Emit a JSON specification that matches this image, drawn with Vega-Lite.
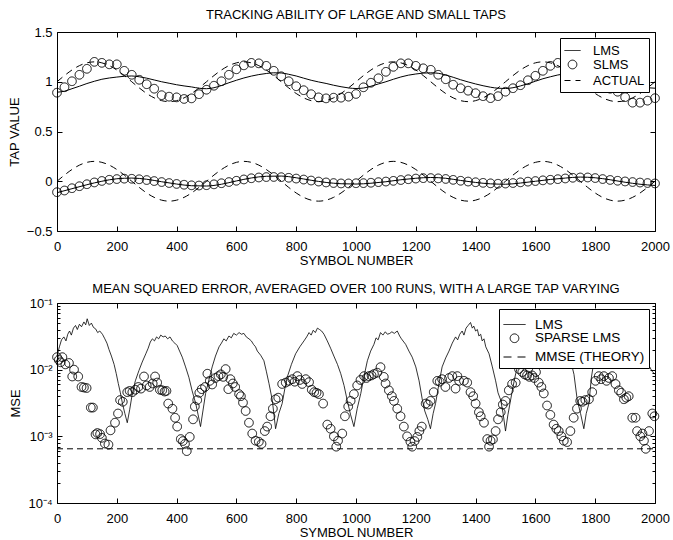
{
"$schema": "https://vega.github.io/schema/vega-lite/v6.json",
"background": "white",
"padding": {"left": 7, "top": 8, "right": 17, "bottom": 0},
"config": {
 "font": "Liberation Sans",
 "view": {"stroke": "black", "strokeWidth": 1},
 "axis": {"grid": false, "domain": false, "tickColor": "black", "tickWidth": 1, "tickSize": -5, "labelFont": "Liberation Sans", "labelFontSize": 13, "labelColor": "black", "labelPadding": 14, "labelFlush": false, "labelOverlap": false, "titleFont": "Liberation Sans", "titleFontSize": 13, "titleFontWeight": "normal", "titleColor": "black"},
 "legend": {"title": null, "orient": "top-right", "offset": 6, "fillColor": "white", "strokeColor": "black", "padding": 4, "labelFont": "Liberation Sans", "labelFontSize": 13, "labelColor": "black", "symbolStrokeWidth": 1, "symbolStrokeColor": "black", "symbolFillColor": "transparent"},
 "title": {"font": "Liberation Sans", "fontSize": 13, "fontWeight": "normal", "color": "black", "frame": "group", "offset": 4},
 "concat": {"spacing": 14}
},
"datasets": {
 "actual": [
  {"n":0,"v":1,"t":"L"},{"n":25,"v":1.062,"t":"L"},{"n":50,"v":1.118,"t":"L"},{"n":75,"v":1.162,"t":"L"},{"n":100,"v":1.19,"t":"L"},{"n":125,"v":1.2,"t":"L"},{"n":150,"v":1.19,"t":"L"},{"n":175,"v":1.162,"t":"L"},{"n":200,"v":1.118,"t":"L"},{"n":225,"v":1.062,"t":"L"},{"n":250,"v":1,"t":"L"},{"n":275,"v":0.938,"t":"L"},{"n":300,"v":0.882,"t":"L"},{"n":325,"v":0.838,"t":"L"},{"n":350,"v":0.81,"t":"L"},{"n":375,"v":0.8,"t":"L"},{"n":400,"v":0.81,"t":"L"},{"n":425,"v":0.838,"t":"L"},{"n":450,"v":0.882,"t":"L"},{"n":475,"v":0.938,"t":"L"},
  {"n":500,"v":1,"t":"L"},{"n":525,"v":1.062,"t":"L"},{"n":550,"v":1.118,"t":"L"},{"n":575,"v":1.162,"t":"L"},{"n":600,"v":1.19,"t":"L"},{"n":625,"v":1.2,"t":"L"},{"n":650,"v":1.19,"t":"L"},{"n":675,"v":1.162,"t":"L"},{"n":700,"v":1.118,"t":"L"},{"n":725,"v":1.062,"t":"L"},{"n":750,"v":1,"t":"L"},{"n":775,"v":0.938,"t":"L"},{"n":800,"v":0.882,"t":"L"},{"n":825,"v":0.838,"t":"L"},{"n":850,"v":0.81,"t":"L"},{"n":875,"v":0.8,"t":"L"},{"n":900,"v":0.81,"t":"L"},{"n":925,"v":0.838,"t":"L"},{"n":950,"v":0.882,"t":"L"},{"n":975,"v":0.938,"t":"L"},
  {"n":1000,"v":1,"t":"L"},{"n":1025,"v":1.062,"t":"L"},{"n":1050,"v":1.118,"t":"L"},{"n":1075,"v":1.162,"t":"L"},{"n":1100,"v":1.19,"t":"L"},{"n":1125,"v":1.2,"t":"L"},{"n":1150,"v":1.19,"t":"L"},{"n":1175,"v":1.162,"t":"L"},{"n":1200,"v":1.118,"t":"L"},{"n":1225,"v":1.062,"t":"L"},{"n":1250,"v":1,"t":"L"},{"n":1275,"v":0.938,"t":"L"},{"n":1300,"v":0.882,"t":"L"},{"n":1325,"v":0.838,"t":"L"},{"n":1350,"v":0.81,"t":"L"},{"n":1375,"v":0.8,"t":"L"},{"n":1400,"v":0.81,"t":"L"},{"n":1425,"v":0.838,"t":"L"},{"n":1450,"v":0.882,"t":"L"},{"n":1475,"v":0.938,"t":"L"},
  {"n":1500,"v":1,"t":"L"},{"n":1525,"v":1.062,"t":"L"},{"n":1550,"v":1.118,"t":"L"},{"n":1575,"v":1.162,"t":"L"},{"n":1600,"v":1.19,"t":"L"},{"n":1625,"v":1.2,"t":"L"},{"n":1650,"v":1.19,"t":"L"},{"n":1675,"v":1.162,"t":"L"},{"n":1700,"v":1.118,"t":"L"},{"n":1725,"v":1.062,"t":"L"},{"n":1750,"v":1,"t":"L"},{"n":1775,"v":0.938,"t":"L"},{"n":1800,"v":0.882,"t":"L"},{"n":1825,"v":0.838,"t":"L"},{"n":1850,"v":0.81,"t":"L"},{"n":1875,"v":0.8,"t":"L"},{"n":1900,"v":0.81,"t":"L"},{"n":1925,"v":0.838,"t":"L"},{"n":1950,"v":0.882,"t":"L"},{"n":1975,"v":0.938,"t":"L"},{"n":2000,"v":1,"t":"L"},
  {"n":0,"v":0,"t":"S"},{"n":25,"v":0.062,"t":"S"},{"n":50,"v":0.118,"t":"S"},{"n":75,"v":0.162,"t":"S"},{"n":100,"v":0.19,"t":"S"},{"n":125,"v":0.2,"t":"S"},{"n":150,"v":0.19,"t":"S"},{"n":175,"v":0.162,"t":"S"},{"n":200,"v":0.118,"t":"S"},{"n":225,"v":0.062,"t":"S"},{"n":250,"v":0,"t":"S"},{"n":275,"v":-0.062,"t":"S"},{"n":300,"v":-0.118,"t":"S"},{"n":325,"v":-0.162,"t":"S"},{"n":350,"v":-0.19,"t":"S"},{"n":375,"v":-0.2,"t":"S"},{"n":400,"v":-0.19,"t":"S"},{"n":425,"v":-0.162,"t":"S"},{"n":450,"v":-0.118,"t":"S"},{"n":475,"v":-0.062,"t":"S"},
  {"n":500,"v":0,"t":"S"},{"n":525,"v":0.062,"t":"S"},{"n":550,"v":0.118,"t":"S"},{"n":575,"v":0.162,"t":"S"},{"n":600,"v":0.19,"t":"S"},{"n":625,"v":0.2,"t":"S"},{"n":650,"v":0.19,"t":"S"},{"n":675,"v":0.162,"t":"S"},{"n":700,"v":0.118,"t":"S"},{"n":725,"v":0.062,"t":"S"},{"n":750,"v":0,"t":"S"},{"n":775,"v":-0.062,"t":"S"},{"n":800,"v":-0.118,"t":"S"},{"n":825,"v":-0.162,"t":"S"},{"n":850,"v":-0.19,"t":"S"},{"n":875,"v":-0.2,"t":"S"},{"n":900,"v":-0.19,"t":"S"},{"n":925,"v":-0.162,"t":"S"},{"n":950,"v":-0.118,"t":"S"},{"n":975,"v":-0.062,"t":"S"},
  {"n":1000,"v":0,"t":"S"},{"n":1025,"v":0.062,"t":"S"},{"n":1050,"v":0.118,"t":"S"},{"n":1075,"v":0.162,"t":"S"},{"n":1100,"v":0.19,"t":"S"},{"n":1125,"v":0.2,"t":"S"},{"n":1150,"v":0.19,"t":"S"},{"n":1175,"v":0.162,"t":"S"},{"n":1200,"v":0.118,"t":"S"},{"n":1225,"v":0.062,"t":"S"},{"n":1250,"v":0,"t":"S"},{"n":1275,"v":-0.062,"t":"S"},{"n":1300,"v":-0.118,"t":"S"},{"n":1325,"v":-0.162,"t":"S"},{"n":1350,"v":-0.19,"t":"S"},{"n":1375,"v":-0.2,"t":"S"},{"n":1400,"v":-0.19,"t":"S"},{"n":1425,"v":-0.162,"t":"S"},{"n":1450,"v":-0.118,"t":"S"},{"n":1475,"v":-0.062,"t":"S"},
  {"n":1500,"v":0,"t":"S"},{"n":1525,"v":0.062,"t":"S"},{"n":1550,"v":0.118,"t":"S"},{"n":1575,"v":0.162,"t":"S"},{"n":1600,"v":0.19,"t":"S"},{"n":1625,"v":0.2,"t":"S"},{"n":1650,"v":0.19,"t":"S"},{"n":1675,"v":0.162,"t":"S"},{"n":1700,"v":0.118,"t":"S"},{"n":1725,"v":0.062,"t":"S"},{"n":1750,"v":0,"t":"S"},{"n":1775,"v":-0.062,"t":"S"},{"n":1800,"v":-0.118,"t":"S"},{"n":1825,"v":-0.162,"t":"S"},{"n":1850,"v":-0.19,"t":"S"},{"n":1875,"v":-0.2,"t":"S"},{"n":1900,"v":-0.19,"t":"S"},{"n":1925,"v":-0.162,"t":"S"},{"n":1950,"v":-0.118,"t":"S"},{"n":1975,"v":-0.062,"t":"S"},{"n":2000,"v":0,"t":"S"}
 ],
 "lms1": [
  {"n":0,"v":0.895,"t":"L"},{"n":25,"v":0.905,"t":"L"},{"n":50,"v":0.93,"t":"L"},{"n":75,"v":0.955,"t":"L"},{"n":100,"v":0.982,"t":"L"},{"n":125,"v":1.005,"t":"L"},{"n":150,"v":1.025,"t":"L"},{"n":175,"v":1.038,"t":"L"},{"n":200,"v":1.047,"t":"L"},{"n":225,"v":1.055,"t":"L"},{"n":250,"v":1.058,"t":"L"},{"n":275,"v":1.05,"t":"L"},{"n":300,"v":1.036,"t":"L"},{"n":325,"v":1.018,"t":"L"},{"n":350,"v":1.0,"t":"L"},{"n":375,"v":0.985,"t":"L"},{"n":400,"v":0.97,"t":"L"},{"n":425,"v":0.958,"t":"L"},{"n":450,"v":0.948,"t":"L"},{"n":475,"v":0.935,"t":"L"},
  {"n":500,"v":0.93,"t":"L"},{"n":525,"v":0.94,"t":"L"},{"n":550,"v":0.962,"t":"L"},{"n":575,"v":0.99,"t":"L"},{"n":600,"v":1.015,"t":"L"},{"n":625,"v":1.038,"t":"L"},{"n":650,"v":1.057,"t":"L"},{"n":675,"v":1.072,"t":"L"},{"n":700,"v":1.083,"t":"L"},{"n":725,"v":1.09,"t":"L"},{"n":750,"v":1.088,"t":"L"},{"n":775,"v":1.075,"t":"L"},{"n":800,"v":1.058,"t":"L"},{"n":825,"v":1.036,"t":"L"},{"n":850,"v":1.015,"t":"L"},{"n":875,"v":0.998,"t":"L"},{"n":900,"v":0.983,"t":"L"},{"n":925,"v":0.965,"t":"L"},{"n":950,"v":0.95,"t":"L"},{"n":975,"v":0.938,"t":"L"},
  {"n":1000,"v":0.932,"t":"L"},{"n":1025,"v":0.937,"t":"L"},{"n":1050,"v":0.955,"t":"L"},{"n":1075,"v":0.978,"t":"L"},{"n":1100,"v":1.0,"t":"L"},{"n":1125,"v":1.025,"t":"L"},{"n":1150,"v":1.048,"t":"L"},{"n":1175,"v":1.066,"t":"L"},{"n":1200,"v":1.078,"t":"L"},{"n":1225,"v":1.087,"t":"L"},{"n":1250,"v":1.09,"t":"L"},{"n":1275,"v":1.085,"t":"L"},{"n":1300,"v":1.068,"t":"L"},{"n":1325,"v":1.045,"t":"L"},{"n":1350,"v":1.02,"t":"L"},{"n":1375,"v":0.998,"t":"L"},{"n":1400,"v":0.978,"t":"L"},{"n":1425,"v":0.96,"t":"L"},{"n":1450,"v":0.945,"t":"L"},{"n":1475,"v":0.935,"t":"L"},
  {"n":1500,"v":0.932,"t":"L"},{"n":1525,"v":0.94,"t":"L"},{"n":1550,"v":0.958,"t":"L"},{"n":1575,"v":0.98,"t":"L"},{"n":1600,"v":1.005,"t":"L"},{"n":1625,"v":1.03,"t":"L"},{"n":1650,"v":1.05,"t":"L"},{"n":1675,"v":1.068,"t":"L"},{"n":1700,"v":1.08,"t":"L"},{"n":1725,"v":1.087,"t":"L"},{"n":1750,"v":1.088,"t":"L"},{"n":1775,"v":1.078,"t":"L"},{"n":1800,"v":1.06,"t":"L"},{"n":1825,"v":1.04,"t":"L"},{"n":1850,"v":1.018,"t":"L"},{"n":1875,"v":0.998,"t":"L"},{"n":1900,"v":0.98,"t":"L"},{"n":1925,"v":0.962,"t":"L"},{"n":1950,"v":0.948,"t":"L"},{"n":1975,"v":0.94,"t":"L"},{"n":2000,"v":0.935,"t":"L"},
  {"n":0,"v":-0.115,"t":"S"},{"n":50,"v":-0.075,"t":"S"},{"n":100,"v":-0.035,"t":"S"},{"n":150,"v":0.0,"t":"S"},{"n":200,"v":0.025,"t":"S"},{"n":250,"v":0.032,"t":"S"},{"n":300,"v":0.02,"t":"S"},{"n":350,"v":-0.005,"t":"S"},{"n":400,"v":-0.028,"t":"S"},{"n":450,"v":-0.045,"t":"S"},{"n":500,"v":-0.048,"t":"S"},{"n":550,"v":-0.03,"t":"S"},{"n":600,"v":0.003,"t":"S"},{"n":650,"v":0.033,"t":"S"},{"n":700,"v":0.05,"t":"S"},{"n":750,"v":0.052,"t":"S"},{"n":800,"v":0.035,"t":"S"},{"n":850,"v":0.01,"t":"S"},{"n":900,"v":-0.012,"t":"S"},{"n":950,"v":-0.025,"t":"S"},
  {"n":1000,"v":-0.028,"t":"S"},{"n":1050,"v":-0.02,"t":"S"},{"n":1100,"v":-0.005,"t":"S"},{"n":1150,"v":0.015,"t":"S"},{"n":1200,"v":0.03,"t":"S"},{"n":1250,"v":0.038,"t":"S"},{"n":1300,"v":0.03,"t":"S"},{"n":1350,"v":0.008,"t":"S"},{"n":1400,"v":-0.012,"t":"S"},{"n":1450,"v":-0.026,"t":"S"},{"n":1500,"v":-0.03,"t":"S"},{"n":1550,"v":-0.018,"t":"S"},{"n":1600,"v":0.0,"t":"S"},{"n":1650,"v":0.018,"t":"S"},{"n":1700,"v":0.032,"t":"S"},{"n":1750,"v":0.042,"t":"S"},{"n":1800,"v":0.035,"t":"S"},{"n":1850,"v":0.015,"t":"S"},{"n":1900,"v":-0.01,"t":"S"},{"n":1950,"v":-0.03,"t":"S"},{"n":2000,"v":-0.042,"t":"S"}
 ],
 "slms1": [
  {"n":0,"v":0.89},{"n":25,"v":0.945},{"n":50,"v":1.005},{"n":75,"v":1.07},{"n":100,"v":1.13},{"n":125,"v":1.2},{"n":150,"v":1.19},{"n":175,"v":1.175},{"n":200,"v":1.175},{"n":225,"v":1.11},{"n":250,"v":1.07},{"n":275,"v":1.02},{"n":300,"v":0.975},{"n":325,"v":0.93},{"n":350,"v":0.865},{"n":375,"v":0.85},{"n":400,"v":0.843},{"n":425,"v":0.827},{"n":450,"v":0.833},{"n":475,"v":0.875},
  {"n":500,"v":0.92},{"n":525,"v":0.96},{"n":550,"v":1.005},{"n":575,"v":1.07},{"n":600,"v":1.125},{"n":625,"v":1.165},{"n":650,"v":1.19},{"n":675,"v":1.185},{"n":700,"v":1.16},{"n":725,"v":1.11},{"n":750,"v":1.055},{"n":775,"v":1.005},{"n":800,"v":0.955},{"n":825,"v":0.915},{"n":850,"v":0.875},{"n":875,"v":0.843},{"n":900,"v":0.833},{"n":925,"v":0.84},{"n":950,"v":0.84},{"n":975,"v":0.85},
  {"n":1000,"v":0.877},{"n":1025,"v":0.944},{"n":1050,"v":0.99},{"n":1075,"v":1.035},{"n":1100,"v":1.1},{"n":1125,"v":1.15},{"n":1150,"v":1.185},{"n":1175,"v":1.185},{"n":1200,"v":1.16},{"n":1225,"v":1.135},{"n":1250,"v":1.12},{"n":1275,"v":1.07},{"n":1300,"v":1.025},{"n":1325,"v":0.97},{"n":1350,"v":0.935},{"n":1375,"v":0.91},{"n":1400,"v":0.885},{"n":1425,"v":0.855},{"n":1450,"v":0.835},{"n":1475,"v":0.855},
  {"n":1500,"v":0.9},{"n":1525,"v":0.935},{"n":1550,"v":0.965},{"n":1575,"v":1.015},{"n":1600,"v":1.06},{"n":1625,"v":1.11},{"n":1650,"v":1.16},{"n":1675,"v":1.19},{"n":1700,"v":1.18},{"n":1725,"v":1.15},{"n":1750,"v":1.1},{"n":1775,"v":1.06},{"n":1800,"v":1.01},{"n":1825,"v":0.96},{"n":1850,"v":0.93},{"n":1875,"v":0.9},{"n":1900,"v":0.845},{"n":1925,"v":0.79},{"n":1950,"v":0.79},{"n":1975,"v":0.81},{"n":2000,"v":0.835},
  {"n":0,"v":-0.11},{"n":25,"v":-0.093},{"n":50,"v":-0.07},{"n":75,"v":-0.05},{"n":100,"v":-0.03},{"n":125,"v":-0.012},{"n":150,"v":0.003},{"n":175,"v":0.015},{"n":200,"v":0.022},{"n":225,"v":0.026},{"n":250,"v":0.025},{"n":275,"v":0.02},{"n":300,"v":0.012},{"n":325,"v":0.002},{"n":350,"v":-0.008},{"n":375,"v":-0.018},{"n":400,"v":-0.027},{"n":425,"v":-0.035},{"n":450,"v":-0.041},{"n":475,"v":-0.043},
  {"n":500,"v":-0.04},{"n":525,"v":-0.031},{"n":550,"v":-0.02},{"n":575,"v":-0.008},{"n":600,"v":0.005},{"n":625,"v":0.018},{"n":650,"v":0.03},{"n":675,"v":0.038},{"n":700,"v":0.042},{"n":725,"v":0.043},{"n":750,"v":0.041},{"n":775,"v":0.035},{"n":800,"v":0.027},{"n":825,"v":0.017},{"n":850,"v":0.007},{"n":875,"v":-0.003},{"n":900,"v":-0.012},{"n":925,"v":-0.018},{"n":950,"v":-0.022},{"n":975,"v":-0.022},
  {"n":1000,"v":-0.02},{"n":1025,"v":-0.019},{"n":1050,"v":-0.015},{"n":1075,"v":-0.009},{"n":1100,"v":-0.003},{"n":1125,"v":0.004},{"n":1150,"v":0.012},{"n":1175,"v":0.02},{"n":1200,"v":0.027},{"n":1225,"v":0.031},{"n":1250,"v":0.032},{"n":1275,"v":0.029},{"n":1300,"v":0.023},{"n":1325,"v":0.014},{"n":1350,"v":0.005},{"n":1375,"v":-0.003},{"n":1400,"v":-0.01},{"n":1425,"v":-0.016},{"n":1450,"v":-0.021},{"n":1475,"v":-0.025},
  {"n":1500,"v":-0.023},{"n":1525,"v":-0.018},{"n":1550,"v":-0.011},{"n":1575,"v":-0.004},{"n":1600,"v":0.002},{"n":1625,"v":0.009},{"n":1650,"v":0.015},{"n":1675,"v":0.021},{"n":1700,"v":0.028},{"n":1725,"v":0.035},{"n":1750,"v":0.038},{"n":1775,"v":0.038},{"n":1800,"v":0.032},{"n":1825,"v":0.022},{"n":1850,"v":0.013},{"n":1875,"v":0.005},{"n":1900,"v":-0.002},{"n":1925,"v":-0.008},{"n":1950,"v":-0.013},{"n":1975,"v":-0.018},{"n":2000,"v":-0.022}
 ],
 "mmse": [{"n":0,"v":0.00065},{"n":2000,"v":0.00065}],
 "lms2": [
  {"n":0,"v":0.016},{"n":8,"v":0.022},{"n":15,"v":0.028},{"n":23,"v":0.031},{"n":30,"v":0.027},{"n":36,"v":0.034},{"n":42,"v":0.038},{"n":48,"v":0.033},{"n":55,"v":0.042},{"n":62,"v":0.046},{"n":68,"v":0.04},{"n":75,"v":0.048},{"n":82,"v":0.044},{"n":90,"v":0.052},{"n":96,"v":0.047},{"n":101,"v":0.058},{"n":108,"v":0.046},{"n":115,"v":0.05},{"n":122,"v":0.043},{"n":129,"v":0.041},{"n":136,"v":0.036},{"n":143,"v":0.038},{"n":152,"v":0.034},{"n":160,"v":0.029},{"n":167,"v":0.025},{"n":174,"v":0.02},{"n":182,"v":0.016},{"n":191,"v":0.012},{"n":198,"v":0.0088},{"n":205,"v":0.0062},{"n":212,"v":0.0045},{"n":219,"v":0.0031},{"n":227,"v":0.0022},{"n":235,"v":0.0016},{"n":243,"v":0.0025},{"n":252,"v":0.0044},{"n":262,"v":0.0068},{"n":274,"v":0.0097},{"n":285,"v":0.013},{"n":297,"v":0.0173},
  {"n":305,"v":0.021},{"n":312,"v":0.026},{"n":319,"v":0.029},{"n":326,"v":0.027},{"n":333,"v":0.031},{"n":340,"v":0.029},{"n":347,"v":0.033},{"n":355,"v":0.031},{"n":362,"v":0.032},{"n":370,"v":0.029},{"n":378,"v":0.031},{"n":386,"v":0.027},{"n":394,"v":0.025},{"n":402,"v":0.023},{"n":410,"v":0.019},{"n":419,"v":0.0154},{"n":430,"v":0.011},{"n":441,"v":0.0077},{"n":452,"v":0.0048},{"n":464,"v":0.0031},{"n":472,"v":0.0021},{"n":480,"v":0.0014},{"n":488,"v":0.0024},{"n":497,"v":0.0044},{"n":508,"v":0.007},{"n":519,"v":0.011},{"n":530,"v":0.016},{"n":542,"v":0.022},{"n":550,"v":0.025},{"n":558,"v":0.029},{"n":566,"v":0.027},{"n":575,"v":0.032},{"n":583,"v":0.03},{"n":591,"v":0.035},{"n":600,"v":0.033},{"n":609,"v":0.036},{"n":617,"v":0.034},{"n":625,"v":0.035},{"n":633,"v":0.031},{"n":642,"v":0.029},
  {"n":650,"v":0.027},{"n":657,"v":0.024},{"n":664,"v":0.022},{"n":670,"v":0.019},{"n":681,"v":0.0165},{"n":692,"v":0.0136},{"n":700,"v":0.0095},{"n":709,"v":0.0062},{"n":720,"v":0.0035},{"n":731,"v":0.0013},{"n":742,"v":0.0022},{"n":753,"v":0.0031},{"n":762,"v":0.0052},{"n":770,"v":0.0077},{"n":784,"v":0.012},{"n":798,"v":0.0173},{"n":812,"v":0.022},{"n":826,"v":0.027},{"n":835,"v":0.031},{"n":843,"v":0.036},{"n":850,"v":0.033},{"n":857,"v":0.039},{"n":864,"v":0.036},{"n":871,"v":0.042},{"n":878,"v":0.04},{"n":885,"v":0.038},{"n":893,"v":0.034},{"n":904,"v":0.027},{"n":915,"v":0.021},{"n":926,"v":0.016},{"n":938,"v":0.012},{"n":949,"v":0.0087},{"n":960,"v":0.0058},{"n":971,"v":0.0034},{"n":982,"v":0.0021},{"n":993,"v":0.0014},
  {"n":1004,"v":0.0026},{"n":1016,"v":0.0044},{"n":1027,"v":0.008},{"n":1038,"v":0.0136},{"n":1049,"v":0.019},{"n":1060,"v":0.024},{"n":1067,"v":0.03},{"n":1074,"v":0.028},{"n":1082,"v":0.036},{"n":1090,"v":0.033},{"n":1098,"v":0.037},{"n":1105,"v":0.034},{"n":1113,"v":0.035},{"n":1120,"v":0.037},{"n":1128,"v":0.035},{"n":1138,"v":0.038},{"n":1146,"v":0.032},{"n":1152,"v":0.029},{"n":1160,"v":0.026},{"n":1166,"v":0.024},{"n":1177,"v":0.019},{"n":1188,"v":0.0154},{"n":1200,"v":0.011},{"n":1211,"v":0.0068},{"n":1222,"v":0.0035},{"n":1230,"v":0.0024},{"n":1240,"v":0.0018},{"n":1249,"v":0.0013},{"n":1258,"v":0.0022},{"n":1266,"v":0.0031},{"n":1277,"v":0.006},{"n":1288,"v":0.011},{"n":1300,"v":0.015},{"n":1311,"v":0.019},{"n":1322,"v":0.025},{"n":1333,"v":0.031},
  {"n":1340,"v":0.028},{"n":1347,"v":0.034},{"n":1355,"v":0.038},{"n":1361,"v":0.033},{"n":1368,"v":0.042},{"n":1375,"v":0.046},{"n":1383,"v":0.051},{"n":1389,"v":0.042},{"n":1394,"v":0.045},{"n":1400,"v":0.038},{"n":1406,"v":0.04},{"n":1411,"v":0.032},{"n":1417,"v":0.034},{"n":1422,"v":0.027},{"n":1428,"v":0.029},{"n":1434,"v":0.022},{"n":1445,"v":0.0173},{"n":1456,"v":0.011},{"n":1467,"v":0.0068},{"n":1475,"v":0.0045},{"n":1484,"v":0.0035},{"n":1492,"v":0.0022},{"n":1500,"v":0.0012},{"n":1508,"v":0.0021},{"n":1517,"v":0.0035},{"n":1525,"v":0.0055},{"n":1534,"v":0.0087},{"n":1542,"v":0.012},{"n":1551,"v":0.0145},{"n":1560,"v":0.019},{"n":1575,"v":0.026},{"n":1590,"v":0.032},{"n":1605,"v":0.037},{"n":1620,"v":0.04},{"n":1635,"v":0.038},{"n":1650,"v":0.035},{"n":1665,"v":0.03},{"n":1680,"v":0.024},{"n":1695,"v":0.019},
  {"n":1707,"v":0.0165},{"n":1718,"v":0.0136},{"n":1729,"v":0.0085},{"n":1740,"v":0.0035},{"n":1751,"v":0.0022},{"n":1762,"v":0.0013},{"n":1770,"v":0.0022},{"n":1779,"v":0.0031},{"n":1787,"v":0.0075},{"n":1796,"v":0.0136},{"n":1805,"v":0.019},{"n":1820,"v":0.027},{"n":1835,"v":0.034},{"n":1850,"v":0.039},{"n":1865,"v":0.041},{"n":1880,"v":0.038},{"n":1895,"v":0.034},{"n":1910,"v":0.029},{"n":1925,"v":0.025},{"n":1940,"v":0.021},{"n":1952,"v":0.018},{"n":1963,"v":0.0145},{"n":1972,"v":0.0125},{"n":1980,"v":0.0115},{"n":1990,"v":0.0095},{"n":2000,"v":0.0085}
 ],
 "slms2": [
  {"n":0,"v":0.0154},{"n":6,"v":0.014},{"n":12,"v":0.0129},{"n":18,"v":0.0154},{"n":28,"v":0.012},{"n":40,"v":0.0126},{"n":51,"v":0.0079},{"n":57,"v":0.01},{"n":71,"v":0.0079},{"n":82,"v":0.0055},{"n":90,"v":0.0054},{"n":99,"v":0.0053},{"n":113,"v":0.0027},{"n":120,"v":0.0027},{"n":129,"v":0.00107},{"n":135,"v":0.00112},{"n":144,"v":0.00108},{"n":150,"v":0.00095},{"n":160,"v":0.00078},{"n":172,"v":0.00075},{"n":179,"v":0.00123},{"n":194,"v":0.0016},{"n":204,"v":0.0022},{"n":211,"v":0.0035},{"n":220,"v":0.0033},{"n":235,"v":0.0046},{"n":243,"v":0.0048},{"n":252,"v":0.0046},{"n":262,"v":0.005},{"n":272,"v":0.0055},{"n":281,"v":0.0052},{"n":291,"v":0.0079},{"n":300,"v":0.0058},{"n":310,"v":0.0055},{"n":320,"v":0.0062},{"n":328,"v":0.0079},{"n":335,"v":0.0064},{"n":344,"v":0.005},{"n":352,"v":0.0049},{"n":360,"v":0.0047},{"n":366,"v":0.0048},
  {"n":372,"v":0.0031},{"n":386,"v":0.0026},{"n":395,"v":0.0019},{"n":402,"v":0.0014},{"n":414,"v":0.00091},{"n":421,"v":0.00085},{"n":428,"v":0.00077},{"n":434,"v":0.0006},{"n":444,"v":0.00098},{"n":455,"v":0.0018},{"n":461,"v":0.0028},{"n":469,"v":0.0035},{"n":476,"v":0.0045},{"n":484,"v":0.0051},{"n":495,"v":0.0055},{"n":503,"v":0.0087},{"n":511,"v":0.0068},{"n":519,"v":0.006},{"n":530,"v":0.0075},{"n":540,"v":0.008},{"n":548,"v":0.0085},{"n":556,"v":0.0078},{"n":564,"v":0.0102},{"n":573,"v":0.0051},{"n":580,"v":0.0072},{"n":588,"v":0.0062},{"n":596,"v":0.0055},{"n":609,"v":0.0043},{"n":615,"v":0.004},{"n":622,"v":0.0032},{"n":631,"v":0.0024},{"n":642,"v":0.0016},{"n":653,"v":0.0011},{"n":664,"v":0.00086},{"n":675,"v":0.00083},{"n":684,"v":0.00077},
  {"n":695,"v":0.0012},{"n":703,"v":0.0014},{"n":714,"v":0.002},{"n":722,"v":0.0026},{"n":731,"v":0.0036},{"n":740,"v":0.0038},{"n":753,"v":0.0061},{"n":765,"v":0.0064},{"n":776,"v":0.0068},{"n":787,"v":0.0072},{"n":795,"v":0.0066},{"n":804,"v":0.008},{"n":812,"v":0.007},{"n":820,"v":0.0061},{"n":832,"v":0.0072},{"n":843,"v":0.0065},{"n":852,"v":0.005},{"n":860,"v":0.0046},{"n":868,"v":0.0045},{"n":876,"v":0.0043},{"n":890,"v":0.0031},{"n":904,"v":0.0015},{"n":915,"v":0.0013},{"n":926,"v":0.001},{"n":934,"v":0.0007},{"n":940,"v":0.00086},{"n":954,"v":0.0011},{"n":963,"v":0.002},{"n":974,"v":0.0028},{"n":982,"v":0.0034},{"n":993,"v":0.0043},
  {"n":1004,"v":0.0058},{"n":1015,"v":0.007},{"n":1027,"v":0.008},{"n":1035,"v":0.0075},{"n":1043,"v":0.008},{"n":1052,"v":0.0082},{"n":1060,"v":0.0086},{"n":1071,"v":0.009},{"n":1082,"v":0.0109},{"n":1093,"v":0.0078},{"n":1099,"v":0.0062},{"n":1110,"v":0.0049},{"n":1120,"v":0.004},{"n":1127,"v":0.0034},{"n":1138,"v":0.0026},{"n":1149,"v":0.002},{"n":1160,"v":0.0014},{"n":1171,"v":0.001},{"n":1182,"v":0.00083},{"n":1188,"v":0.0007},{"n":1196,"v":0.00085},{"n":1205,"v":0.00098},{"n":1212,"v":0.0012},{"n":1220,"v":0.0014},{"n":1233,"v":0.0031},{"n":1241,"v":0.003},{"n":1249,"v":0.0034},{"n":1260,"v":0.0046},{"n":1272,"v":0.0068},{"n":1280,"v":0.0066},{"n":1288,"v":0.0072},{"n":1299,"v":0.0055},{"n":1311,"v":0.0075},{"n":1322,"v":0.008},{"n":1333,"v":0.0052},
  {"n":1339,"v":0.008},{"n":1345,"v":0.0068},{"n":1361,"v":0.0068},{"n":1372,"v":0.0064},{"n":1383,"v":0.0046},{"n":1392,"v":0.004},{"n":1400,"v":0.0031},{"n":1411,"v":0.0023},{"n":1417,"v":0.002},{"n":1428,"v":0.0016},{"n":1439,"v":0.00091},{"n":1445,"v":0.0007},{"n":1450,"v":0.00086},{"n":1458,"v":0.0009},{"n":1467,"v":0.0012},{"n":1475,"v":0.0018},{"n":1484,"v":0.0023},{"n":1491,"v":0.003},{"n":1500,"v":0.0034},{"n":1511,"v":0.0049},{"n":1522,"v":0.0061},{"n":1534,"v":0.0064},{"n":1545,"v":0.0102},{"n":1556,"v":0.0092},{"n":1564,"v":0.0085},{"n":1572,"v":0.0082},{"n":1580,"v":0.0078},{"n":1589,"v":0.0082},{"n":1596,"v":0.0075},{"n":1602,"v":0.0092},{"n":1611,"v":0.0064},{"n":1620,"v":0.0055},{"n":1628,"v":0.0044},{"n":1639,"v":0.0029},{"n":1650,"v":0.0021},{"n":1661,"v":0.0015},{"n":1670,"v":0.0013},{"n":1678,"v":0.0012},{"n":1687,"v":0.001},{"n":1695,"v":0.00086},{"n":1706,"v":0.00082},
  {"n":1717,"v":0.0012},{"n":1728,"v":0.0019},{"n":1739,"v":0.0026},{"n":1750,"v":0.0034},{"n":1758,"v":0.0033},{"n":1767,"v":0.0035},{"n":1779,"v":0.0036},{"n":1790,"v":0.0046},{"n":1801,"v":0.0068},{"n":1812,"v":0.008},{"n":1820,"v":0.0072},{"n":1829,"v":0.008},{"n":1838,"v":0.0068},{"n":1846,"v":0.0075},{"n":1857,"v":0.008},{"n":1868,"v":0.0061},{"n":1879,"v":0.0049},{"n":1887,"v":0.0045},{"n":1896,"v":0.0036},{"n":1904,"v":0.0038},{"n":1912,"v":0.004},{"n":1924,"v":0.0019},{"n":1935,"v":0.0019},{"n":1940,"v":0.0012},{"n":1951,"v":0.001},{"n":1958,"v":0.0011},{"n":1963,"v":0.00086},{"n":1969,"v":0.00065},{"n":1980,"v":0.0012},{"n":1991,"v":0.0022},{"n":1998,"v":0.002}
 ]
},
"resolve": {"scale": {"shape": "independent", "size": "independent", "strokeDash": "independent"}, "legend": {"shape": "independent", "size": "independent", "strokeDash": "independent"}},
"vconcat": [
 {
  "width": 598, "height": 199,
  "title": "TRACKING ABILITY OF LARGE AND SMALL TAPS",
  "resolve": {"axis": {"x": "independent", "y": "independent"}},
  "layer": [
   {"data": {"name": "actual"},
    "mark": {"type": "line", "color": "black", "strokeWidth": 1, "strokeDash": [7, 5], "interpolate": "monotone"},
    "encoding": {
     "x": {"field": "n", "type": "quantitative", "scale": {"domain": [0, 2000], "nice": false, "zero": false},
       "axis": {"orient": "bottom", "values": [0,200,400,600,800,1000,1200,1400,1600,1800,2000], "format": "d", "title": "SYMBOL NUMBER", "titlePadding": 1}},
     "y": {"field": "v", "type": "quantitative", "scale": {"domain": [-0.5, 1.5], "nice": false, "zero": false},
       "axis": {"orient": "left", "values": [-0.5, 0, 0.5, 1, 1.5], "format": "~g", "title": "TAP VALUE", "labelPadding": 10, "titlePadding": 5}},
     "detail": {"field": "t"}
    }},
   {"data": {"name": "lms1"},
    "mark": {"type": "line", "color": "black", "strokeWidth": 1, "interpolate": "monotone"},
    "encoding": {
     "x": {"field": "n", "type": "quantitative", "axis": {"orient": "top", "values": [0,200,400,600,800,1000,1200,1400,1600,1800,2000], "labels": false, "title": null}},
     "y": {"field": "v", "type": "quantitative", "axis": {"orient": "right", "values": [-0.5, 0, 0.5, 1, 1.5], "labels": false, "title": null}},
     "detail": {"field": "t"}
    }},
   {"data": {"name": "slms1"},
    "mark": {"type": "point", "color": "black", "filled": false, "strokeWidth": 1, "opacity": 1},
    "encoding": {
     "x": {"field": "n", "type": "quantitative", "axis": null},
     "y": {"field": "v", "type": "quantitative", "axis": null},
     "shape": {"datum": "SLMS", "type": "nominal", "scale": {"domain": ["LMS", "SLMS", "ACTUAL"], "range": ["stroke", "circle", "stroke"]},
       "legend": {"rowPadding": 0, "labelOffset": 12}},
     "size": {"datum": "SLMS", "type": "nominal", "scale": {"type": "ordinal", "domain": ["LMS", "SLMS", "ACTUAL"], "range": [256, 75, 256]},
       "legend": {"rowPadding": 0, "labelOffset": 12}},
     "strokeDash": {"datum": "SLMS", "type": "nominal", "scale": {"domain": ["LMS", "SLMS", "ACTUAL"], "range": [[1, 0], [1, 0], [6, 5]]},
       "legend": {"rowPadding": 0, "labelOffset": 12}}
    }}
  ]
 },
 {
  "width": 598, "height": 200,
  "title": {"text": "MEAN SQUARED ERROR, AVERAGED OVER 100 RUNS, WITH A LARGE TAP VARYING", "offset": 1},
  "resolve": {"axis": {"x": "independent", "y": "independent"}},
  "layer": [
   {"data": {"name": "mmse"},
    "mark": {"type": "line", "color": "black", "strokeWidth": 1, "strokeDash": [6, 4]},
    "encoding": {
     "x": {"field": "n", "type": "quantitative", "scale": {"domain": [0, 2000], "nice": false, "zero": false},
       "axis": {"orient": "bottom", "values": [0,200,400,600,800,1000,1200,1400,1600,1800,2000], "format": "d", "title": "SYMBOL NUMBER", "titlePadding": 1}},
     "y": {"field": "v", "type": "quantitative", "scale": {"type": "log", "domain": [0.0001, 0.1], "nice": false},
       "axis": {"orient": "left", "values": [0.0001, 0.001, 0.01, 0.1], "labelExpr": "'10' + (datum.value > 0.05 ? '⁻¹' : datum.value > 0.005 ? '⁻²' : datum.value > 0.0005 ? '⁻³' : '⁻⁴')", "title": "MSE", "labelPadding": 10, "titlePadding": 5}}
    }},
   {"data": {"name": "lms2"},
    "mark": {"type": "line", "color": "black", "strokeWidth": 0.8},
    "encoding": {
     "x": {"field": "n", "type": "quantitative", "axis": {"orient": "top", "values": [0,200,400,600,800,1000,1200,1400,1600,1800,2000], "labels": false, "title": null}},
     "y": {"field": "v", "type": "quantitative", "axis": {"orient": "right", "labels": false, "title": null,
       "values": [0.0001,0.0002,0.0003,0.0004,0.0005,0.0006,0.0007,0.0008,0.0009,0.001,0.002,0.003,0.004,0.005,0.006,0.007,0.008,0.009,0.01,0.02,0.03,0.04,0.05,0.06,0.07,0.08,0.09,0.1],
       "tickSize": {"condition": {"test": "datum.value == 0.1 || datum.value == 0.01 || datum.value == 0.001 || datum.value == 0.0001", "value": -5}, "value": -3}}}
    }},
   {"data": {"name": "slms2"},
    "mark": {"type": "point", "color": "black", "filled": false, "strokeWidth": 1, "opacity": 1},
    "encoding": {
     "x": {"field": "n", "type": "quantitative", "axis": null},
     "y": {"field": "v", "type": "quantitative", "axis": {"orient": "left", "labels": false, "title": null, "tickSize": -3,
       "values": [0.0002,0.0003,0.0004,0.0005,0.0006,0.0007,0.0008,0.0009,0.002,0.003,0.004,0.005,0.006,0.007,0.008,0.009,0.02,0.03,0.04,0.05,0.06,0.07,0.08,0.09]}},
     "shape": {"datum": "SPARSE LMS", "type": "nominal", "scale": {"domain": ["LMS", "SPARSE LMS", "MMSE (THEORY)"], "range": ["stroke", "circle", "stroke"]},
       "legend": {"rowPadding": -0.5, "labelOffset": 9, "labelFontSize": 13.5}},
     "size": {"datum": "SPARSE LMS", "type": "nominal", "scale": {"type": "ordinal", "domain": ["LMS", "SPARSE LMS", "MMSE (THEORY)"], "range": [484, 75, 484]},
       "legend": {"rowPadding": -0.5, "labelOffset": 9, "labelFontSize": 13.5}},
     "strokeDash": {"datum": "SPARSE LMS", "type": "nominal", "scale": {"domain": ["LMS", "SPARSE LMS", "MMSE (THEORY)"], "range": [[1, 0], [1, 0], [8, 6]]},
       "legend": {"rowPadding": -0.5, "labelOffset": 9, "labelFontSize": 13.5}}
    }}
  ]
 }
]
}
